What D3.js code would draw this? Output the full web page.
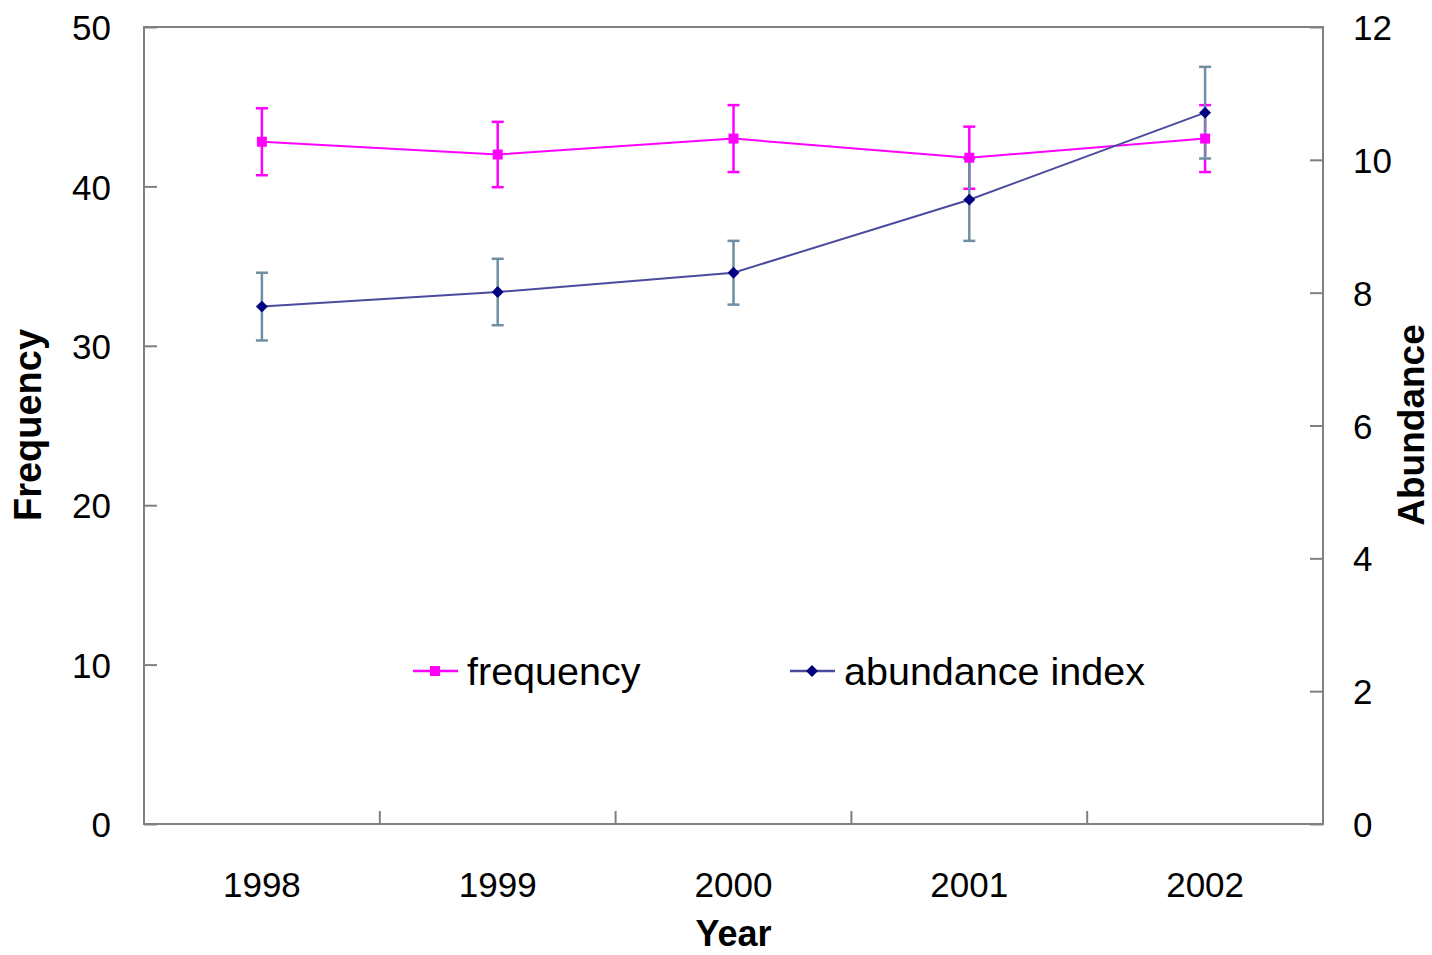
<!DOCTYPE html>
<html>
<head>
<meta charset="utf-8">
<script src="https://cdn.jsdelivr.net/npm/d3@7"></script>
<style>
  html, body { margin: 0; padding: 0; background: #fff; }
  text { font-family: "Liberation Sans", Arial, sans-serif; fill: #000; }
</style>
</head>
<body>
<svg id="chart" width="1432" height="955"></svg>
<script>
const years = ["1998", "1999", "2000", "2001", "2002"];
const frequency = [42.8, 42.0, 43.0, 41.8, 43.0];
const frequencyErr = [2.1, 2.05, 2.1, 1.95, 2.1];
const abundance = [7.79, 8.01, 8.30, 9.40, 10.71];
const abundanceErr = [0.51, 0.5, 0.48, 0.62, 0.69];
const leftTicks = [0, 10, 20, 30, 40, 50];
const rightTicks = [0, 2, 4, 6, 8, 10, 12];

const svg = d3.select("#chart");
const L = 144, R = 1323, T = 27, B = 824;
const frameColor = "#808080";
const freqColor = "#ff00ff";
const abLine = "#4b4b9e";
const abMarker = "#000080";
const abErr = "#6f8ea3";

const x = d3.scaleBand().domain(years).range([L, R]).padding(0);
const yL = d3.scaleLinear().domain([0, 50]).range([B, T]);
const yR = d3.scaleLinear().domain([0, 12]).range([B, T]);

// frame
svg.append("rect").attr("x", L).attr("y", T).attr("width", R - L).attr("height", B - T)
  .attr("fill", "none").attr("stroke", frameColor).attr("stroke-width", 2);

// left axis
const gL = svg.append("g").attr("transform", `translate(${L},0)`)
  .call(d3.axisLeft(yL).tickValues(leftTicks).tickSize(-13).tickPadding(33));
gL.select(".domain").remove();
gL.selectAll("line").attr("stroke", frameColor).attr("stroke-width", 2);
gL.selectAll("text").style("font-size", "35px").attr("dy", "0.36em");

// right axis
const gR = svg.append("g").attr("transform", `translate(${R},0)`)
  .call(d3.axisRight(yR).tickValues(rightTicks).tickSize(-13).tickPadding(30));
gR.select(".domain").remove();
gR.selectAll("line").attr("stroke", frameColor).attr("stroke-width", 2);
gR.selectAll("text").style("font-size", "35px").attr("dy", "0.36em");

// bottom axis: labels at centers, ticks at band boundaries
const gB = svg.append("g").attr("transform", `translate(0,${B})`)
  .call(d3.axisBottom(x).tickSize(0).tickPadding(48));
gB.select(".domain").remove();
gB.selectAll("text").style("font-size", "35px").attr("dy", "0.71em");
const bounds = years.slice(1).map(d => x(d));
svg.append("g").selectAll("line").data(bounds).join("line")
  .attr("x1", d => d).attr("x2", d => d).attr("y1", B).attr("y2", B - 13)
  .attr("stroke", frameColor).attr("stroke-width", 2);

// axis titles
svg.append("text").attr("x", x("2000") + x.bandwidth() / 2).attr("y", 946)
  .attr("text-anchor", "middle").style("font-size", "36px").style("font-weight", "bold").text("Year");
svg.append("text").attr("transform", "translate(41,425) rotate(-90)")
  .attr("text-anchor", "middle").style("font-size", "38px").style("font-weight", "bold").text("Frequency");
svg.append("text").attr("transform", "translate(1424,425) rotate(-90)")
  .attr("text-anchor", "middle").style("font-size", "37px").style("font-weight", "bold").text("Abundance");

const cx = d => x(d) + x.bandwidth() / 2;
const cap = 6;

function errorBars(vals, errs, scale, color) {
  const g = svg.append("g");
  years.forEach((yr, i) => {
    const xc = cx(yr), y1 = scale(vals[i] + errs[i]), y2 = scale(vals[i] - errs[i]);
    g.append("line").attr("x1", xc).attr("x2", xc).attr("y1", y1).attr("y2", y2)
      .attr("stroke", color).attr("stroke-width", 2.5);
    [y1, y2].forEach(yy => g.append("line").attr("x1", xc - cap).attr("x2", xc + cap)
      .attr("y1", yy).attr("y2", yy).attr("stroke", color).attr("stroke-width", 2.5));
  });
}
errorBars(frequency, frequencyErr, yL, freqColor);
errorBars(abundance, abundanceErr, yR, abErr);

// lines
svg.append("path").datum(frequency)
  .attr("d", d3.line().x((d, i) => cx(years[i])).y(d => yL(d)))
  .attr("fill", "none").attr("stroke", freqColor).attr("stroke-width", 2);
svg.append("path").datum(abundance)
  .attr("d", d3.line().x((d, i) => cx(years[i])).y(d => yR(d)))
  .attr("fill", "none").attr("stroke", abLine).attr("stroke-width", 2);

// markers
svg.append("g").selectAll("rect").data(frequency).join("rect")
  .attr("x", (d, i) => cx(years[i]) - 5).attr("y", d => yL(d) - 5)
  .attr("width", 10).attr("height", 10).attr("fill", freqColor);
const diamond = d3.symbol().type(d3.symbolDiamond2).size(90);
svg.append("g").selectAll("path").data(abundance).join("path")
  .attr("transform", (d, i) => `translate(${cx(years[i])},${yR(d)})`)
  .attr("d", diamond).attr("fill", abMarker);

// legend
const legend = [
  { label: "frequency", color: freqColor, x0: 413, type: "square" },
  { label: "abundance index", color: abLine, x0: 790, type: "diamond" }
];
const ly = 671;
legend.forEach(l => {
  const g = svg.append("g");
  g.append("line").attr("x1", l.x0).attr("x2", l.x0 + 45).attr("y1", ly).attr("y2", ly)
    .attr("stroke", l.color).attr("stroke-width", 2.5);
  if (l.type === "square") {
    g.append("rect").attr("x", l.x0 + 17).attr("y", ly - 5).attr("width", 10).attr("height", 10).attr("fill", l.color);
  } else {
    g.append("path").attr("transform", `translate(${l.x0 + 22},${ly})`).attr("d", diamond).attr("fill", abMarker);
  }
  g.append("text").attr("x", l.x0 + 54).attr("y", ly).attr("dy", "0.36em")
    .style("font-size", "39.5px").text(l.label);
});
</script>
</body>
</html>
